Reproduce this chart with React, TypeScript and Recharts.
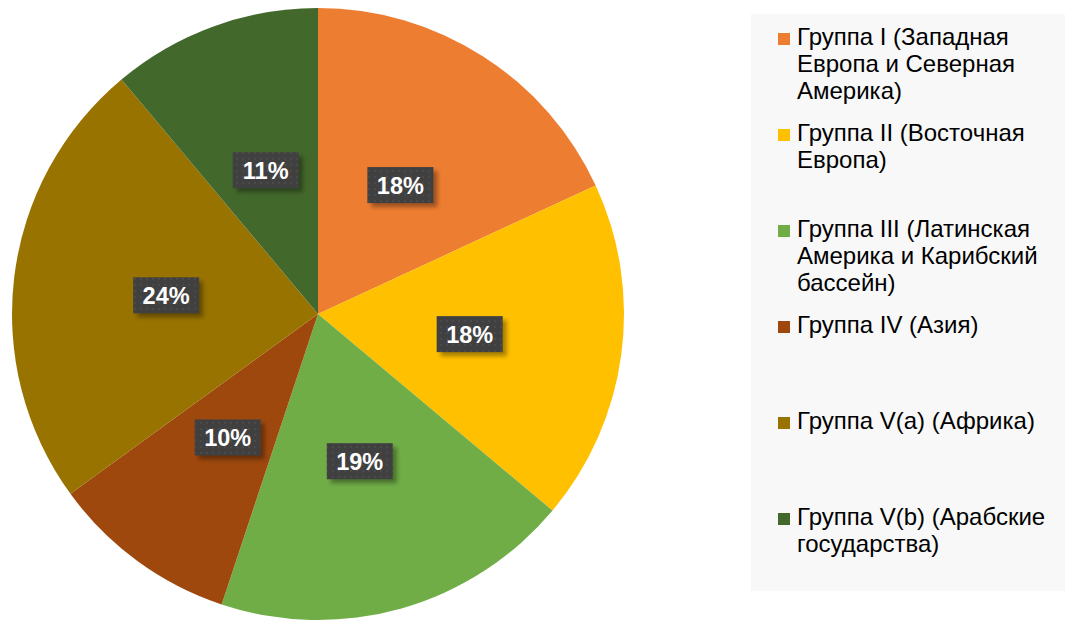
import React from 'react';
import { PieChart, Pie, Cell, Legend } from 'recharts';

const groupNames = [
  'Группа I (Западная Европа и Северная Америка)',
  'Группа II (Восточная Европа)',
  'Группа III (Латинская Америка и Карибский бассейн)',
  'Группа IV (Азия)',
  'Группа V(a) (Африка)',
  'Группа V(b) (Арабские государства)',
];
const legendLines = [
  ['Группа I (Западная', 'Европа и Северная', 'Америка)'],
  ['Группа II (Восточная', 'Европа)'],
  ['Группа III (Латинская', 'Америка и Карибский', 'бассейн)'],
  ['Группа IV (Азия)'],
  ['Группа V(a) (Африка)'],
  ['Группа V(b) (Арабские', 'государства)'],
];
const shares = [18.1, 18.0, 19.0, 9.9, 23.9, 11.1];
const percentLabels = ['18%', '18%', '19%', '10%', '24%', '11%'];
const colors = ['#ED7D31', '#FFC000', '#70AD47', '#9E480E', '#997300', '#43682B'];

const data = groupNames.map((name, i) => ({ name, value: shares[i], label: percentLabels[i] }));

const RAD = Math.PI / 180;

const renderLabel = (props: any) => {
  const { cx, cy, midAngle, outerRadius, index } = props;
  const r = outerRadius * 0.5;
  const x = cx + r * Math.cos(-midAngle * RAD);
  const y = cy + r * Math.sin(-midAngle * RAD);
  const w = 66;
  const h = 36;
  return (
    <g key={`lbl-${index}`}>
      <rect x={x - w / 2 + 4} y={y - h / 2 + 4} width={w} height={h} fill="rgba(0,0,0,0.35)" filter="url(#blur)" />
      <rect x={x - w / 2} y={y - h / 2} width={w} height={h} fill="url(#dots)" />
      <text
        x={x}
        y={y + 1}
        textAnchor="middle"
        dominantBaseline="central"
        fill="#ffffff"
        fontFamily="'Liberation Sans', Arial, sans-serif"
        fontWeight="bold"
        fontSize={23.5}
      >
        {percentLabels[index]}
      </text>
    </g>
  );
};

const renderLegend = () => (
  <div
    style={{
      width: 314,
      height: 577,
      background: '#f8f8f8',
      position: 'relative',
      fontFamily: "'Liberation Sans', Arial, sans-serif",
      fontSize: 24,
      color: '#000',
    }}
  >
    {legendLines.map((lines, i) => (
      <div key={i} style={{ position: 'absolute', left: 27, top: 9 + i * 96 }}>
        <div
          style={{
            position: 'absolute',
            left: 0,
            top: 10,
            width: 12,
            height: 12,
            background: colors[i],
          }}
        />
        <div style={{ position: 'absolute', left: 19, top: 0, lineHeight: '27px', whiteSpace: 'nowrap' }}>
          {lines.map((l, j) => (
            <div key={j}>{l}</div>
          ))}
        </div>
      </div>
    ))}
  </div>
);

export default function App() {
  return (
    <div style={{ position: 'absolute', left: 0, top: 0, width: 1065, height: 621, background: '#fff' }}>
      <PieChart width={1065} height={621} margin={{ top: 0, right: 0, bottom: 0, left: 0 }}>
        <defs>
          <pattern id="dots" width="6" height="6" patternUnits="userSpaceOnUse">
            <rect width="6" height="6" fill="#404040" />
            <circle cx="3" cy="3" r="1" fill="#4d4d4d" />
          </pattern>
          <filter id="blur" x="-20%" y="-20%" width="140%" height="140%">
            <feGaussianBlur stdDeviation="2" />
          </filter>
        </defs>
        <Pie
          data={data}
          dataKey="value"
          nameKey="name"
          cx={318}
          cy={314}
          outerRadius={306}
          startAngle={90}
          endAngle={-270}
          stroke="none"
          label={renderLabel}
          labelLine={false}
          isAnimationActive={false}
        >
          {data.map((d, i) => (
            <Cell key={i} fill={colors[i]} />
          ))}
        </Pie>
        <Legend
          content={renderLegend}
          layout="vertical"
          wrapperStyle={{ position: 'absolute', left: 751, top: 14, width: 314, height: 577 }}
        />
      </PieChart>
    </div>
  );
}
